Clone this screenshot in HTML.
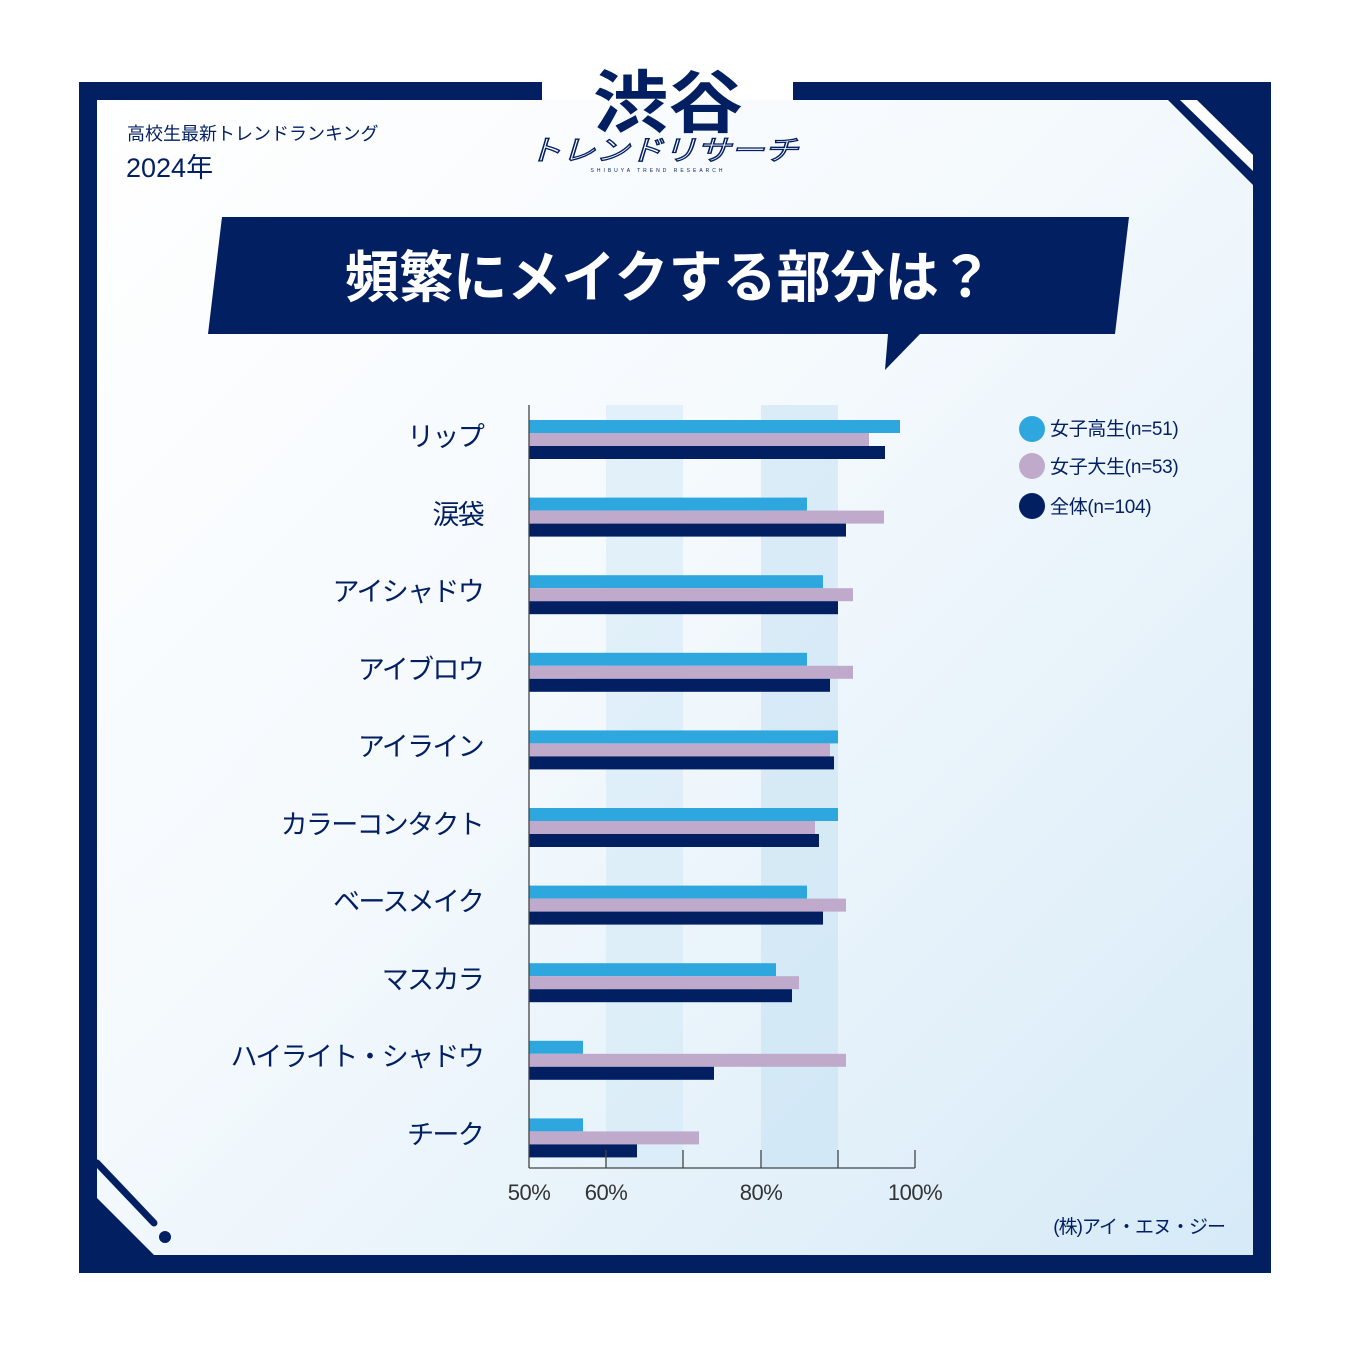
<!DOCTYPE html>
<html><head><meta charset="utf-8"><style>
html,body{margin:0;padding:0;background:#fff;}
svg{display:block;}
text{font-family:"Liberation Sans","Noto Sans CJK JP",sans-serif;}
</style></head><body>
<svg width="1350" height="1350" viewBox="0 0 1350 1350" xmlns="http://www.w3.org/2000/svg">
<defs>
<linearGradient id="bg" x1="0" y1="0" x2="1" y2="1">
<stop offset="0" stop-color="#ffffff"/><stop offset="0.45" stop-color="#f4f9fd"/><stop offset="1" stop-color="#d6eaf7"/>
</linearGradient>
</defs>
<rect width="1350" height="1350" fill="#fff"/>
<rect x="97" y="100" width="1156" height="1155" fill="url(#bg)"/>
<g fill="#021f62">
<rect x="79" y="82" width="463" height="18"/>
<rect x="793" y="82" width="478" height="18"/>
<rect x="79" y="82" width="18" height="1191"/>
<rect x="1253" y="82" width="18" height="1191"/>
<rect x="79" y="1255" width="1192" height="18"/>
<polygon points="1168,100 1253,100 1253,185"/>
<polygon points="97,1198 97,1255 154,1255"/>
<circle cx="165" cy="1237" r="6"/>
</g>
<polygon points="1180,100 1197,100 1253,155 1253,171" fill="#fff"/>
<line x1="97" y1="1163" x2="154" y2="1223" stroke="#021f62" stroke-width="7" stroke-linecap="round"/>
<text x="668" y="127" text-anchor="middle" font-size="68" font-weight="bold" fill="#021f62" textLength="150" lengthAdjust="spacingAndGlyphs">渋谷</text>
<text x="663" y="160" text-anchor="middle" font-size="28" font-style="italic" fill="#fff" stroke="#021f62" stroke-width="1.3" textLength="270" lengthAdjust="spacingAndGlyphs">トレンドリサーチ</text>
<text x="658" y="172" text-anchor="middle" font-size="5" fill="#021f62" letter-spacing="3">SHIBUYA TREND RESEARCH</text>
<text x="127" y="140" font-size="18" fill="#021f62">高校生最新トレンドランキング</text>
<text x="126" y="177" font-size="27" fill="#021f62">2024年</text>
<polygon points="222,217 1129,217 1115,334 920,334 885,370 888,334 208,334" fill="#021f62"/>
<text x="669" y="297" text-anchor="middle" font-size="56" font-weight="bold" fill="#fff" textLength="648" lengthAdjust="spacingAndGlyphs">頻繁にメイクする部分は？</text>
<rect x="606" y="405" width="77" height="763" fill="#d3e9f6" opacity="0.6"/>
<rect x="761" y="405" width="77" height="763" fill="#c8e3f4" opacity="0.6"/>
<g>
<rect x="529" y="420" width="371" height="13" fill="#2ea7df"/><rect x="529" y="433" width="340" height="13" fill="#bfaacc"/><rect x="529" y="446" width="356" height="13" fill="#021f62"/>
<rect x="529" y="497.6" width="278" height="13" fill="#2ea7df"/><rect x="529" y="510.6" width="355" height="13" fill="#bfaacc"/><rect x="529" y="523.6" width="317" height="13" fill="#021f62"/>
<rect x="529" y="575.2" width="294" height="13" fill="#2ea7df"/><rect x="529" y="588.2" width="324" height="13" fill="#bfaacc"/><rect x="529" y="601.2" width="309" height="13" fill="#021f62"/>
<rect x="529" y="652.8" width="278" height="13" fill="#2ea7df"/><rect x="529" y="665.8" width="324" height="13" fill="#bfaacc"/><rect x="529" y="678.8" width="301" height="13" fill="#021f62"/>
<rect x="529" y="730.4" width="309" height="13" fill="#2ea7df"/><rect x="529" y="743.4" width="301" height="13" fill="#bfaacc"/><rect x="529" y="756.4" width="305" height="13" fill="#021f62"/>
<rect x="529" y="808" width="309" height="13" fill="#2ea7df"/><rect x="529" y="821" width="286" height="13" fill="#bfaacc"/><rect x="529" y="834" width="290" height="13" fill="#021f62"/>
<rect x="529" y="885.6" width="278" height="13" fill="#2ea7df"/><rect x="529" y="898.6" width="317" height="13" fill="#bfaacc"/><rect x="529" y="911.6" width="294" height="13" fill="#021f62"/>
<rect x="529" y="963.2" width="247" height="13" fill="#2ea7df"/><rect x="529" y="976.2" width="270" height="13" fill="#bfaacc"/><rect x="529" y="989.2" width="263" height="13" fill="#021f62"/>
<rect x="529" y="1040.8" width="54" height="13" fill="#2ea7df"/><rect x="529" y="1053.8" width="317" height="13" fill="#bfaacc"/><rect x="529" y="1066.8" width="185" height="13" fill="#021f62"/>
<rect x="529" y="1118.4" width="54" height="13" fill="#2ea7df"/><rect x="529" y="1131.4" width="170" height="13" fill="#bfaacc"/><rect x="529" y="1144.4" width="108" height="13" fill="#021f62"/>
</g>
<g stroke="#444" stroke-width="1.3">
<line x1="529" y1="405" x2="529" y2="1168"/>
<line x1="529" y1="1168" x2="915" y2="1168"/>
<line x1="606" y1="1150" x2="606" y2="1168"/>
<line x1="683" y1="1150" x2="683" y2="1168"/>
<line x1="761" y1="1150" x2="761" y2="1168"/>
<line x1="838" y1="1150" x2="838" y2="1168"/>
<line x1="915" y1="1150" x2="915" y2="1168"/>
</g>
<g font-size="22" fill="#333" text-anchor="middle" letter-spacing="-0.5">
<text x="529" y="1200">50%</text><text x="606" y="1200">60%</text><text x="761" y="1200">80%</text><text x="915" y="1200">100%</text>
</g>
<g font-size="27" fill="#021f62" text-anchor="end" letter-spacing="-1.7">
<text x="483" y="446">リップ</text>
<text x="483" y="524">涙袋</text>
<text x="483" y="601">アイシャドウ</text>
<text x="483" y="679">アイブロウ</text>
<text x="483" y="756">アイライン</text>
<text x="483" y="834">カラーコンタクト</text>
<text x="483" y="911">ベースメイク</text>
<text x="483" y="989">マスカラ</text>
<text x="483" y="1066">ハイライト・シャドウ</text>
<text x="483" y="1144">チーク</text>
</g>
<circle cx="1032" cy="429" r="13" fill="#2ea7df"/>
<circle cx="1032" cy="466" r="13" fill="#bfaacc"/>
<circle cx="1032" cy="506" r="13" fill="#021f62"/>
<g font-size="19" fill="#021f62" letter-spacing="-0.3">
<text x="1050" y="435">女子高生(n=51)</text>
<text x="1050" y="473">女子大生(n=53)</text>
<text x="1050" y="513">全体(n=104)</text>
</g>
<text x="1225" y="1233" text-anchor="end" font-size="19" fill="#021f62" letter-spacing="-1">(株)アイ・エヌ・ジー</text>
</svg>
</body></html>
